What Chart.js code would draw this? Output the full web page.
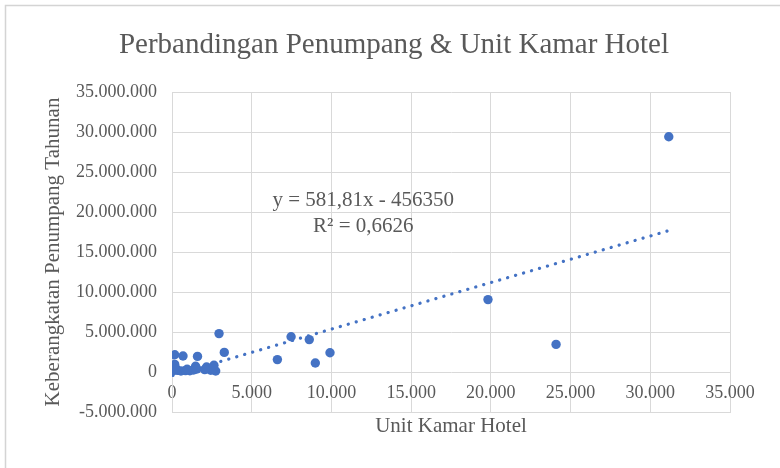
<!DOCTYPE html>
<html>
<head>
<meta charset="utf-8">
<script src="https://cdn.jsdelivr.net/npm/chart.js@4"></script>
<style>
  body { margin: 0; background: #fff; }
</style>
</head>
<body>
<canvas id="hotelChart" width="780" height="468"></canvas>
<script>
// data
const unitKamar = [31160, 19820, 24090, 9910, 8990, 8610, 7470, 6610, 3280, 2950,
    170, 690, 1600, 170, 1480, 2170, 2630, 2430, 2740, 60,
    330, 560, 850, 1120, 1350, 1560, 250, 2560, 2050, 950];
const penumpang = [29400000, 9050000, 3450000, 2400000, 1130000, 4050000, 4400000, 1550000, 2450000, 4800000,
    2150000, 2000000, 1950000, 950000, 720000, 630000, 850000, 220000, 130000, 150000,
    200000, 120000, 180000, 150000, 250000, 380000, 420000, 420000, 300000, 350000];

const slope = 581.81;
const intercept = -456350;
const persamaan = ['y = 581,81x - 456350', 'R² = 0,6626'];

const xMin = 0, xMax = 35000, xStep = 5000;
const yMin = -5000000, yMax = 35000000, yStep = 5000000;

const judul = 'Perbandingan Penumpang & Unit Kamar Hotel';
const judulX = 'Unit Kamar Hotel';
const judulY = 'Keberangkatan Penumpang Tahunan';

const textColor = '#595959';
const gridColor = '#d9d9d9';
const blue = '#4472C4';
const serif = '"Liberation Serif", "Times New Roman", serif';

function fmt(v) {
    const s = String(Math.abs(v)).replace(/\B(?=(\d{3})+(?!\d))/g, '.');
    return v < 0 ? '-' + s : s;
}

const points = unitKamar.map((x, i) => ({ x: x, y: penumpang[i] }));
const loX = Math.min(...unitKamar), hiX = Math.max(...unitKamar);
const trend = [
    { x: loX, y: slope * loX + intercept },
    { x: hiX, y: slope * hiX + intercept }
];

const extras = {
    id: 'extras',
    beforeDraw(chart) {
        const c = chart.ctx;
        c.save();
        c.strokeStyle = '#d4d4d4';
        c.lineWidth = 1.5;
        c.strokeRect(5.5, 5.5, 820, 520);
        c.restore();
    },
    afterDraw(chart) {
        const c = chart.ctx;
        const xs = chart.scales.x, ys = chart.scales.y;
        c.save();
        c.fillStyle = textColor;
        c.textAlign = 'center';
        c.textBaseline = 'middle';
        c.font = '29px ' + serif;
        c.fillText(judul, 394, 45);
        c.font = '21px ' + serif;
        const ex = xs.getPixelForValue(12000);
        const ey = ys.getPixelForValue(21500000);
        c.fillText(persamaan[0], ex, ey);
        c.fillText(persamaan[1], ex, ey + 26);
        c.restore();
    }
};

new Chart(document.getElementById('hotelChart').getContext('2d'), {
    type: 'scatter',
    data: {
        datasets: [{
            data: points,
            backgroundColor: blue,
            borderWidth: 0,
            pointRadius: 4.7
        }, {
            data: trend,
            showLine: true,
            borderColor: blue,
            borderWidth: 3.2,
            borderDash: [0.1, 8.2],
            borderCapStyle: 'round',
            pointRadius: 0
        }]
    },
    options: {
        responsive: false,
        animation: false,
        layout: { padding: { top: 92, right: 50, bottom: 0, left: 0 } },
        plugins: {
            legend: { display: false },
            tooltip: { enabled: false }
        },
        scales: {
            x: {
                min: xMin, max: xMax,
                ticks: {
                    stepSize: xStep,
                    mirror: true,
                    padding: 8,
                    color: textColor,
                    font: { family: serif, size: 18 },
                    callback: v => fmt(v)
                },
                grid: { color: gridColor, drawTicks: false },
                border: { color: gridColor },
                title: {
                    display: true, text: judulX, color: textColor,
                    font: { family: serif, size: 21 },
                    padding: { top: 0, bottom: 29 }
                },
                afterFit(scale) { scale.height = 56; }
            },
            y: {
                min: yMin, max: yMax,
                ticks: {
                    stepSize: yStep,
                    padding: 15,
                    color: textColor,
                    font: { family: serif, size: 18 },
                    callback: v => fmt(v)
                },
                grid: { color: gridColor, drawTicks: false },
                border: { color: gridColor },
                title: {
                    display: true, text: judulY, color: textColor,
                    font: { family: serif, size: 21 },
                    padding: { top: 41, bottom: 0 }
                },
                afterFit(scale) { scale.width = 172; }
            }
        }
    },
    plugins: [extras]
});
</script>
</body>
</html>
